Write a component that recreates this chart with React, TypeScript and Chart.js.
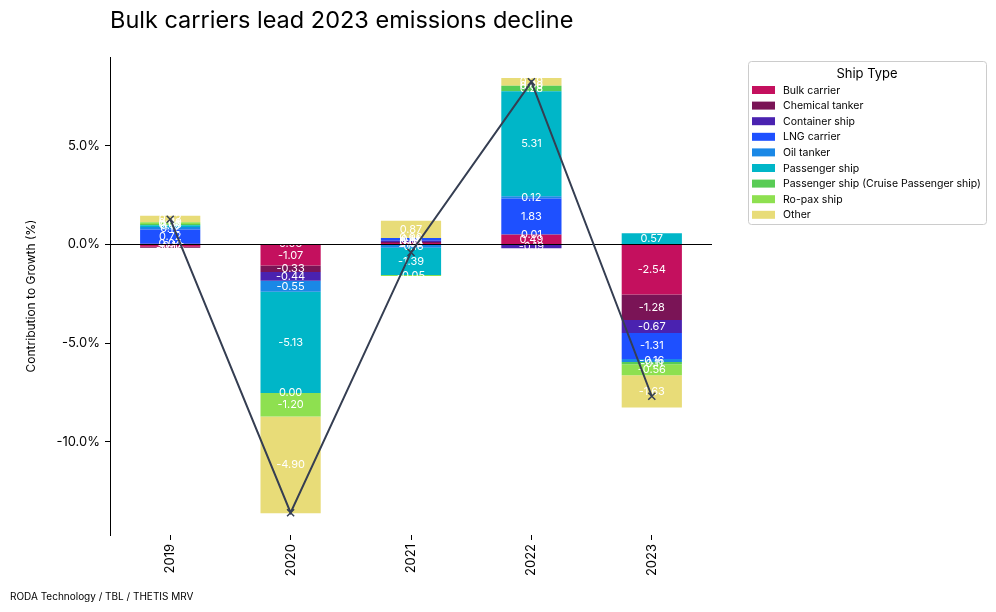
import React, { useEffect, useRef } from "react";
import { Chart, registerables } from "chart.js";

Chart.register(...registerables);

const years = ["2019", "2020", "2021", "2022", "2023"];
const seriesNames = [
  "Bulk carrier",
  "Chemical tanker",
  "Container ship",
  "LNG carrier",
  "Oil tanker",
  "Passenger ship",
  "Passenger ship (Cruise Passenger ship)",
  "Ro-pax ship",
  "Other",
];
const seriesColors = [
  "#c4105e",
  "#7a1456",
  "#4a22b0",
  "#1e50ff",
  "#1a88e6",
  "#00b6c8",
  "#58cc55",
  "#8ee050",
  "#e8dc78",
];
const bulkCarrier = [-0.12, -1.07, 0.08, 0.49, -2.54];
const chemicalTanker = [-0.05, -0.33, 0.05, 0.01, -1.28];
const containerShip = [0.04, -0.44, 0.06, -0.19, -0.67];
const lngCarrier = [0.72, 0.03, 0.14, 1.83, -1.31];
const oilTanker = [0.12, -0.55, -0.16, 0.12, -0.16];
const passengerShip = [0.1, -5.13, -1.39, 5.31, 0.57];
const cruiseShip = [0.06, 0.0, 0.0, 0.28, -0.11];
const roPaxShip = [0.09, -1.2, -0.05, 0.0, -0.56];
const otherShips = [0.32, -4.9, 0.87, 0.39, -1.63];
const yTicks = [-10, -5, 0, 5];

const seriesValues = [
  bulkCarrier,
  chemicalTanker,
  containerShip,
  lngCarrier,
  oilTanker,
  passengerShip,
  cruiseShip,
  roPaxShip,
  otherShips,
];
const totals = years.map((_, i) => seriesValues.reduce((s, arr) => s + arr[i], 0));

const FONT = "Inter, 'Liberation Sans', sans-serif";

export default function App() {
  const ref = useRef<HTMLCanvasElement | null>(null);
  useEffect(() => {
    document.body.style.margin = "0";
    const canvas = ref.current;
    if (!canvas) return;

    const overlay = {
      id: "overlay",
      beforeDatasetDraw(chart: any, args: any) {
        if (args.meta.type !== "line") return;
        const ctx = chart.ctx;
        const area = chart.chartArea;
        ctx.save();
        ctx.fillStyle = "#ffffff";
        ctx.font = `11px ${FONT}`;
        ctx.textAlign = "center";
        ctx.textBaseline = "middle";
        for (let d = 0; d < seriesValues.length; d++) {
          const meta = chart.getDatasetMeta(d);
          meta.data.forEach((el: any, i: number) => {
            const v = seriesValues[d][i];
            const yc = (el.y + el.base) / 2;
            ctx.fillText(v.toFixed(2), el.x, yc);
          });
        }
        const y0 = chart.scales.y.getPixelForValue(0);
        ctx.strokeStyle = "#000";
        ctx.lineWidth = 1.2;
        ctx.beginPath();
        ctx.moveTo(area.left, y0);
        ctx.lineTo(area.right, y0);
        ctx.stroke();
        ctx.restore();
      },
      afterDraw(chart: any) {
        const ctx = chart.ctx;
        const area = chart.chartArea;
        ctx.save();
        ctx.fillStyle = "#000";
        ctx.font = `23.5px ${FONT}`;
        ctx.textAlign = "left";
        ctx.textBaseline = "middle";
        ctx.fillText("Bulk carriers lead 2023 emissions decline", 110, 21);
        ctx.save();
        ctx.translate(31, (area.top + area.bottom) / 2);
        ctx.rotate(-Math.PI / 2);
        ctx.font = `12px ${FONT}`;
        ctx.textAlign = "center";
        ctx.fillText("Contribution to Growth (%)", 0, 0);
        ctx.restore();
        ctx.font = `10px ${FONT}`;
        ctx.textAlign = "left";
        ctx.fillText("RODA Technology / TBL / THETIS MRV", 10, 597);
        const lx = 748, ly = 61, lw = 238, lh = 163;
        ctx.strokeStyle = "#cccccc";
        ctx.lineWidth = 1;
        ctx.fillStyle = "#ffffff";
        ctx.beginPath();
        (ctx as any).roundRect(lx + 0.5, ly + 0.5, lw, lh, 3);
        ctx.fill();
        ctx.stroke();
        ctx.fillStyle = "#000";
        ctx.font = `13px ${FONT}`;
        ctx.textAlign = "center";
        ctx.fillText("Ship Type", lx + lw / 2, 74);
        ctx.font = `10.5px ${FONT}`;
        ctx.textAlign = "left";
        seriesNames.forEach((name, i) => {
          const cy = 90 + i * 15.6;
          ctx.fillStyle = seriesColors[i];
          ctx.fillRect(752, cy - 4, 23, 8);
          ctx.fillStyle = "#000";
          ctx.fillText(name, 783, cy + 0.5);
        });
        ctx.restore();
      },
    };

    const datasets: any[] = seriesNames.map((name, i) => ({
      type: "bar",
      label: name,
      data: seriesValues[i],
      backgroundColor: seriesColors[i],
      borderWidth: 0,
      stack: "s",
      order: 1,
      barPercentage: 0.5,
      categoryPercentage: 1,
    }));
    datasets.push({
      type: "line",
      label: "Total",
      data: totals,
      borderColor: "#353e52",
      backgroundColor: "#353e52",
      borderWidth: 2,
      pointStyle: "crossRot",
      pointRadius: 5,
      pointBorderWidth: 1.5,
      order: 0,
    });

    const chart = new Chart(canvas, {
      type: "bar",
      data: { labels: years, datasets },
      plugins: [overlay],
      options: {
        animation: false,
        responsive: false,
        maintainAspectRatio: false,
        layout: { padding: { left: 0, right: 284, top: 57, bottom: 0 } },
        plugins: { legend: { display: false }, tooltip: { enabled: false }, title: { display: false } },
        scales: {
          x: {
            stacked: true,
            offset: true,
            border: { display: false },
            grid: { display: true, offset: false, drawOnChartArea: false, drawTicks: true, tickLength: 5, color: "#000" },
            ticks: {
              color: "#000",
              font: { family: FONT, size: 13 },
              minRotation: 90,
              maxRotation: 90,
              padding: 4,
            },
            afterFit: (s: any) => {
              s.height = 612 - 535;
            },
          },
          y: {
            stacked: true,
            min: -14.72,
            max: 9.5,
            border: { display: true, color: "#000", width: 1 },
            grid: { display: true, drawOnChartArea: false, drawTicks: true, tickLength: 5, color: "#000" },
            afterBuildTicks: (s: any) => {
              s.ticks = yTicks.map((v) => ({ value: v }));
            },
            ticks: {
              color: "#000",
              font: { family: FONT, size: 13 },
              padding: 5,
              callback: (v: any) => `${Number(v).toFixed(1)}%`,
            },
            afterFit: (s: any) => {
              s.width = 110;
            },
          },
        },
      },
    });
    return () => chart.destroy();
  }, []);

  return (
    <div style={{ width: 996, height: 612 }}>
      <canvas ref={ref} width={996} height={612} style={{ width: 996, height: 612, display: "block" }} />
    </div>
  );
}
